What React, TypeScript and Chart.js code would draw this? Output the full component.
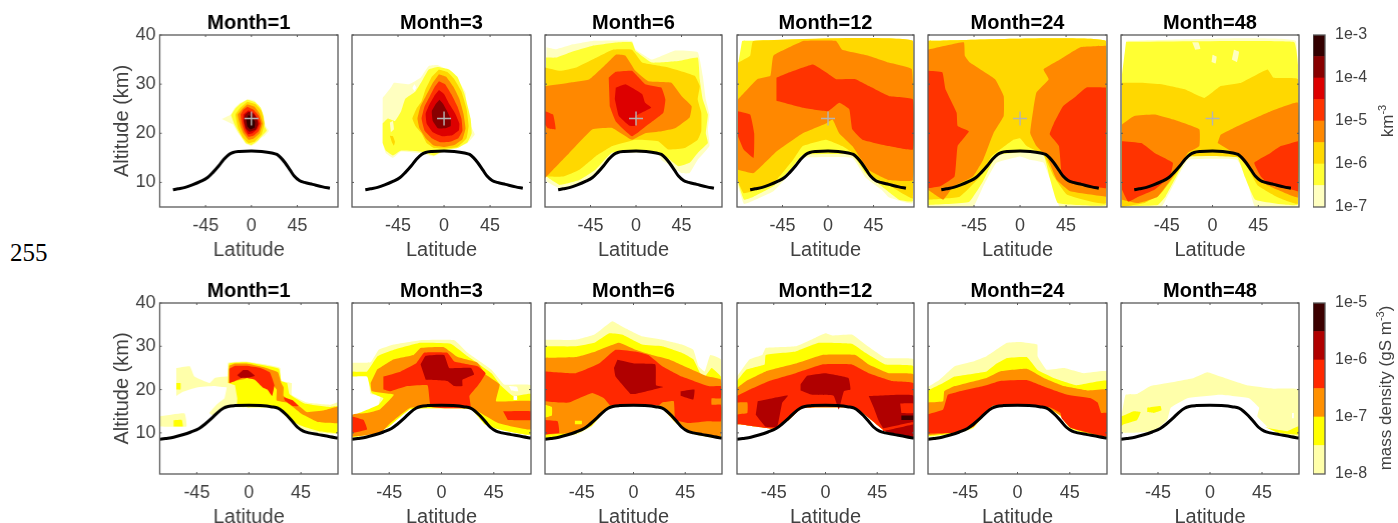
import React, { useEffect, useRef } from "react";
import { Chart, registerables } from "chart.js";
Chart.register(...registerables);

type Layer = [number, number[]];
const WHITE = -1;

const monthLabels = ["Month=1", "Month=3", "Month=6", "Month=12", "Month=24", "Month=48"];
const tropLat = [-77, -72, -65, -58, -50, -43, -38, -32, -27, -22, -18, -12, 0, 10, 20, 25, 29, 33, 38, 42, 47, 52, 60, 70, 77];
const tropAlt = [8.5, 8.7, 9.0, 9.5, 10.2, 11.0, 12, 13.4, 14.7, 15.7, 16.1, 16.3, 16.4, 16.3, 16.0, 15.7, 15, 14, 12.5, 11.3, 10.4, 10, 9.6, 9.1, 8.8];

const numberColors = ["#FFFFC0", "#FFFF33", "#FFD800", "#FF8800", "#FF3300", "#DD0000", "#880000", "#330000"];
const massColors = ["#FFFFAA", "#FFFF00", "#FF9000", "#FF2800", "#B00000", "#3C0000"];
const numberEdges = [-7, -6.5, -6, -5.5, -5, -4.5, -4, -3.5, -3];
const massEdges = [-8, -7.5, -7, -6.5, -6, -5.5, -5];
const numberTicks = [-7, -6, -5, -4, -3];
const massTicks = [-8, -7, -6, -5];

const n1: Layer[] = [
  [0, [-29, 22.9, -20, 23.8, -17, 25, -11, 26.2, -3, 26.9, 3, 26.6, 9, 25.2, 11, 23.5, 14, 21.5, 17, 20.5, 13, 19.5, 9, 19, 5, 18, 0, 17.4, -5, 17.8, -9, 19, -13, 20, -18, 21.8]],
  [1, [-4, 26.9, 3, 26.4, 9, 25.2, 12, 23.5, 13, 21.5, 15, 20.5, 11, 19.6, 7, 18.7, 3, 18, 0, 17.6, -5, 17.9, -9, 19, -13, 20.4, -17, 22, -20, 23.7, -16, 25, -11, 26]],
  [2, [-4, 26.4, 4, 25.9, 10, 24.5, 12.7, 22, 10, 19.8, 3, 18.3, -3, 18, -9, 19.3, -13, 21, -15.6, 23.8, -11, 25.2]],
  [3, [-4, 25.9, 3, 25.4, 8, 24, 11, 22, 8, 20, 2, 18.9, -3, 18.7, -8, 20, -11, 21.5, -13.4, 23.8, -9, 25]],
  [4, [-4, 25.4, 2, 24.8, 7, 23.6, 9.4, 22, 7, 20.4, 2, 19.5, -3, 19.3, -7, 20.4, -9.5, 22, -10.7, 23.8, -8, 24.8]],
  [5, [-3, 24.7, 2, 24.2, 5.5, 23.2, 7.8, 22, 5.5, 20.8, 1, 20, -3, 19.8, -6, 20.8, -8, 22.5, -8, 23.8]],
  [6, [-3, 24.4, 2, 24, 5.5, 23, 6.5, 21.8, 4, 20.7, -2, 20.3, -5.5, 21, -7.5, 22.5, -6.5, 23.7]],
  [7, [-3, 23.7, 1, 23.3, 3.5, 22.3, 3, 21.2, -1, 20.8, -4, 21.4, -5, 22.7]],
];

const n2: Layer[] = [
  [0, [-60, 27.2, -52, 29.3, -49, 30.3, -34, 30, -23, 31.3, -15, 33.7, -6.5, 33.9, 5, 32.7, 13, 31, 21, 28.3, 23, 22.8, 30, 19.8, 23, 18, 13, 17, 3, 16.7, -10, 15.3, -23, 16, -42, 16.3, -50, 15, -57, 16, -60, 18, -60, 24.2]],
  [1, [-60, 22, -55, 23, -48, 22.5, -42, 24.5, -38, 27, -28, 28.5, -22, 30.5, -15, 33, -6, 33.5, 5, 33, 13, 31.5, 20, 28, 26, 23, 27, 20, 23, 18.2, 13, 17, 0, 16.5, -10, 15.5, -23, 16.3, -42, 16.5, -50, 15.5, -57, 16.5, -60, 18]],
  [0, [-53, 22.2, -50, 22.5, -49, 20.8, -52, 20.2]],
  [WHITE, [-31, 29.2, -29, 30, -27, 29.3, -29, 28.6]],
  [2, [-5, 33, 3, 32.5, 10, 31, 17, 28.5, 22, 25, 24, 21.5, 22, 19, 13, 17.2, 0, 16.9, -10, 17, -17, 18, -22, 20, -28, 21.5, -31, 23, -27, 25, -22, 26.5, -18, 29, -12, 31.5]],
  [2, [-53, 19.5, -50, 19.4, -48, 18.3, -49, 17.5, -51, 18.2]],
  [3, [-5, 32, 2, 31.5, 9, 29.5, 15, 27, 19, 24, 21, 21, 18, 18.8, 10, 17.6, 0, 17.2, -10, 17.5, -18, 19, -24, 21, -26, 23, -23, 25.5, -18, 27.5, -11, 30.3]],
  [4, [-5, 30.6, 1, 30, 7, 28, 13, 25.5, 17, 23, 18, 20.5, 14, 19, 6, 18.3, -4, 18.2, -12, 19, -19, 20.5, -22, 23, -19, 25.5, -14, 27.5, -9, 29.5]],
  [5, [-5, 28.8, 0, 28, 5, 26, 11, 24, 15, 22, 14.5, 20.6, 8, 19.6, -2, 19.4, -11, 20.2, -17, 22, -18, 24, -14, 26, -9, 27.8]],
  [6, [-4.5, 26.8, -1, 26, 3, 24.5, 6.5, 23, 6.5, 21.5, 1, 21, -6, 21, -11, 22.5, -12, 24.5, -8, 26]],
];

const n3: Layer[] = [
  [0, [-88.6, 37.5, -79, 37.1, -62.5, 38.1, -43, 38.8, -4, 38.8, -0.6, 37.1, 15.6, 35, 38, 36.8, 61, 36.5, 66, 31.7, 69, 26.9, 72.6, 23.8, 71, 20.8, 72.6, 17.4, 61, 14.6, 53, 11.9, 45, 11.9, 25, 14.6, 22, 15.9, -23, 15.9, -40, 11.2, -56, 9.5, -75.6, 8.8, -88.6, 10.2]],
  [1, [-89, 35.4, -79, 35.4, -66, 36.4, -43, 37.8, -17, 38.5, -4, 38.5, -0.6, 36.8, 15.6, 34.4, 42, 34.7, 61, 35.4, 63, 31, 66, 26.9, 71, 23.8, 69, 20, 71, 18, 61, 16, 53, 14, 42, 13.3, 27, 15.7, 22, 16.1, -23.5, 16.1, -40, 12.6, -56, 10.5, -75.6, 9.5, -88.6, 11.2]],
  [2, [-90, 33.4, -75, 32.7, -59, 33.4, -43, 35, -23, 37, -4, 37, 6, 34.4, 32, 33.4, 58, 31.7, 63, 29.6, 61, 26.9, 64.5, 24.2, 64.5, 20.4, 61, 18.7, 48, 17, 32, 16.7, 22, 18.4, -0.6, 18.7, -23.5, 17.4, -40, 15.3, -56, 12.6, -72, 11.2, -90, 11.2]],
  [3, [-90, 29.6, -66, 30.3, -46, 31, -28, 34.4, -20, 36, -10.4, 35.8, -0.6, 32.7, 12, 30.6, 35, 30.3, 45, 27.6, 55, 25.5, 53, 23.2, 38.5, 21, 25.4, 20.4, 9, 20, -4, 18.7, -23.5, 21.1, -43, 20.8, -66, 16, -82, 12.6, -90, 10.9]],
  [4, [-27, 31.3, -20, 32.5, -4, 32.7, 9, 30, 25, 29.3, 29, 26.9, 27, 24.2, 12, 21.8, -4, 19.4, -20, 22.4, -26, 25.5]],
  [4, [-90, 24.5, -82, 23.8, -79.5, 20.8, -87, 21, -90, 21.8]],
  [5, [-20, 29.3, -10.4, 30, 6, 28, 9, 26.2, 15, 25.2, -0.6, 23.5, -0.6, 21.5, -7, 21.6, -17, 23.5, -21, 27]],
];

const n4: Layer[] = [
  [0, [-85, 38.8, 84, 38.8, 85, 33, 84, 5.8, 60, 7, 53, 8.5, 37, 11, 24, 15, -25, 15, -34.5, 12.5, -54, 8.2, -73.6, 6.3, -83, 5.6, -89, 9.5, -89, 30]],
  [1, [-85, 38.8, 84, 38.8, 84, 6.2, 70, 6.5, 53, 9.2, 37, 11.9, 24, 15.6, -25, 15.6, -34.5, 13.3, -54, 9.2, -73.6, 7.1, -83, 6.5, -89, 10.2, -89, 34]],
  [2, [-89, 34.4, -77, 35.8, -74, 38.8, 84, 38.8, 84, 6.8, 60, 9.5, 44, 11.2, 27, 15.6, 14, 17.4, -2, 18.7, -25, 17.4, -34.5, 14.6, -51, 10.5, -70, 8.5, -83.4, 7.8, -89, 10.2]],
  [3, [-89, 26.9, -70, 31, -57, 31.7, -54, 35.8, -31, 38.2, -25, 38.8, 8, 38.8, 14, 37, 40, 35.8, 60, 34.4, 83, 33, 84, 10.5, 60, 10.5, 40, 12.6, 24, 17.4, 11, 20, 4.5, 22.8, -2, 22, -25, 20, -51, 16.3, -73.6, 11.9, -89, 12.6]],
  [4, [-51, 31.3, -38, 32.4, -15, 34, -2, 32.4, 8, 31, 27, 31, 40.5, 29.6, 60, 27.6, 84, 26.9, 84, 16.7, 60, 17.4, 34, 18.7, 24, 20.8, 21, 24.9, 11, 26.2, 0, 24.5, -25, 25.2, -51, 26.6]],
  [4, [-89, 24.5, -77, 23.8, -73, 20, -73.6, 15, -83.4, 16.7, -89, 19.4]],
];

const n5: Layer[] = [
  [0, [-90, 38.8, 84, 38.8, 84, 5, 39, 5, 33, 8.5, 23, 14, 10, 14.6, 0, 15.3, -23, 14, -36, 9.2, -46, 5, -90, 5]],
  [1, [-90, 38.8, 84, 38.8, 84, 5.4, 37, 5.8, 29, 11, 23, 15.6, 4, 16.2, -23, 15.5, -36, 10.3, -50, 6, -90, 5.4]],
  [2, [-90, 38.8, 84, 38.8, 84, 5.8, 46, 7.5, 33, 11.2, 23, 15.6, 6.5, 17.4, 0, 19, -6.5, 18.7, -28, 15.3, -39, 11.2, -59, 7.1, -90, 6.5]],
  [3, [-90, 37, -55, 38.5, -54, 35.8, -49, 34.4, -24.4, 31, -16, 27.6, -16, 23.5, -26, 20, -36, 14.6, -46, 11.2, -65, 9.2, -75, 6.5, -90, 8.5]],
  [3, [84, 37.8, 59, 37.5, 39, 35, 23, 33, 28, 31, 16, 28.3, 13, 24.9, 10, 20, 16, 17.4, 26, 15.3, 36, 10.5, 49, 8.2, 84, 7.1]],
  [4, [-90, 32.7, -76, 32.4, -73, 29, -62, 24.2, -61, 21.5, -50, 20.4, -61, 17.4, -64, 11.2, -78, 9.2, -90, 8.8]],
  [4, [84, 29.3, 65, 29.3, 55, 27.6, 42, 25.5, 33, 22, 29, 19.8, 38, 17.4, 41, 11.2, 49, 9.9, 84, 8.8]],
];

const n6: Layer[] = [
  [0, [-85, 38.8, 82, 38.8, 84, 5, 42, 5, 34, 10.5, 24, 14.6, -24, 14.6, -34, 11.2, -46, 6.5, -50.5, 5, -89, 5, -89, 30]],
  [1, [-85, 38.6, 80, 38.6, 84, 34, 84, 5.5, 42, 6.5, 32, 11, 24, 15.2, -24, 15.2, -34, 11.8, -46, 7.2, -54, 5.4, -89, 5.4, -89, 32]],
  [0, [-20, 38.5, -14, 38.5, -12, 37.2, -17, 37]],
  [0, [0, 36, 4, 35.6, 3, 34.2, -1, 34.5]],
  [0, [21, 37, 26, 36.6, 24, 34.5, 19, 35]],
  [2, [-89, 30.3, -70, 30.3, -50.5, 30, -28, 29, -8, 27.2, 8, 29.6, 28, 30.3, 54, 33, 60, 31.3, 84, 31, 84, 5.7, 64, 7, 44, 9.5, 28, 15, -24.4, 15.3, -34, 12.2, -50.5, 7.8, -67, 5.8, -89, 5]],
  [3, [-89, 21.8, -77, 23.5, -57, 23.8, -34, 22.5, -13, 20.8, -13, 17.4, -24.4, 16, -34, 12.6, -54, 7.1, -73, 5.8, -89, 6.5]],
  [3, [5, 18, 8, 19.7, 28, 21.8, 54, 24.2, 84, 26.2, 84, 7, 64, 8.5, 47, 10.2, 34, 13.3, 24.4, 15.6]],
  [4, [-89, 18.4, -70, 18, -57, 16, -39, 14, -42, 11.2, -57, 8.5, -73, 7.1, -83, 6.1, -89, 8.5]],
  [4, [84, 18.4, 67, 17.4, 57, 16, 41, 14, 47.5, 11.2, 54, 9.9, 84, 8.2]],
];

const m1: Layer[] = [
  [0, [-62.7, 25, -51, 25.4, -47, 23, -34, 21.5, -29.5, 22.7, -18, 23, -18, 20.5, -30, 20.8, -45, 20.5, -57, 19.5, -62.7, 18.5]],
  [1, [-62.7, 21.5, -59, 21.5, -59, 20, -62.7, 20]],
  [0, [-77.7, 13.8, -55.5, 14.5, -54, 11.5, -77.7, 11.5]],
  [1, [-65, 12.9, -58, 13, -57, 11.5, -65, 11.5]],
  [0, [-18, 22, -18, 26.2, -2, 26.5, 15, 25.8, 27, 25, 28, 22, 37, 21.5, 37, 18.8, 50, 17, 70, 16.5, 77, 17, 77, 9.8, 60, 10, 45, 11, 33, 14, 24, 15.8, -22, 15.8, -31, 14, -34, 14.6, -28, 16.5, -21, 18]],
  [1, [-18, 21.5, -17, 26, -2, 26.3, 15, 25.5, 26, 24.8, 28, 22, 33, 21.5, 35, 19, 48, 16.8, 70, 16, 77, 16.2, 77, 10, 62, 10.3, 47, 11.5, 35, 13, 24, 15.8, -10, 16, -10, 18, -12, 21]],
  [2, [-17, 25.5, -12, 26, -2, 26, 12, 25.2, 25, 24, 28, 21.5, 30, 20.5, 30, 18.5, 42, 16.5, 50, 14.8, 65, 15.2, 77, 16, 77, 12.3, 60, 12.5, 45, 14.5, 33, 17, 24, 17.5, 24, 20, 18, 22, 10, 24, -3, 22.5, -12, 22, -17, 21.5]],
  [3, [-17, 24.8, -12, 25.5, -2, 25.5, 10, 25, 18, 24, 22, 21, 20, 18.5, 16, 20, 12, 20.5, 5, 22.3, -5, 22.8, -12, 22, -17, 21.5]],
  [3, [30, 18.2, 38, 17.5, 43, 16.2, 38, 16.2, 31, 17.5]],
  [4, [-10, 23.3, -5, 24.5, -1, 24.5, 5, 23.2, 0, 22.8, -7, 22.7]],
];

const m2: Layer[] = [
  [0, [-77, 26.2, -61, 26.3, -54, 29.2, -41, 30.4, -18, 31.4, 11, 31.4, 22.5, 28.5, 43, 24.6, 54, 21.2, 77, 21, 77, 9.6, 51, 10.8, 40, 12, 25, 15.4, -26.6, 15.4, -47, 11, -55.5, 10, -77, 8.8, -77, 13.8, -67, 14.6, -55.5, 15.4, -52.6, 18.5, -61, 19, -64, 23.8, -77, 24.2]],
  [1, [-77, 24.2, -64, 24.2, -55, 27.7, -41, 29.2, -18, 30.8, 8, 30.6, 22.5, 27.7, 43, 23.8, 51.5, 20.8, 61.6, 18.5, 77, 19, 77, 9.6, 48, 10.9, 37, 12, 25, 15.5, -26.6, 15.5, -45, 11.5, -55.5, 10.2, -77, 9, -77, 13.8, -67, 15, -54, 16.5, -50, 18, -60, 19.2, -64, 23, -77, 23]],
  [WHITE, [58, 20.8, 65, 20.6, 66, 19.6, 60, 19.8]],
  [WHITE, [62, 18.5, 65, 18.5, 65, 17.6, 62, 17.6]],
  [2, [-55.5, 24.6, -41, 27, -24, 28, -18, 29.6, 2, 29.8, 14, 27.5, 31, 26.2, 38, 23.5, 50, 21.2, 47, 17.3, 77, 17.3, 77, 10.8, 48.6, 12.3, 25, 15.8, -26.6, 15.8, -45, 12, -52.6, 10, -77, 9.2, -77, 14.2, -64, 14.6, -53, 15.4, -41, 18.8, -60, 19.6, -61, 21.5]],
  [3, [-50, 23, -35, 24.2, -22, 26, -15, 28.5, 5, 28.5, 11, 26.5, 31, 25.4, 38, 23.8, 31, 20.8, 24, 18.5, 25, 15.8, -9, 16, -12, 21, -29.5, 20.8, -44, 19.6, -50, 20]],
  [3, [-77, 13.8, -67, 13, -64, 10.8, -77, 10]],
  [3, [53, 15, 77, 15, 77, 13, 57, 13]],
  [4, [-18, 25.8, -13.6, 27.8, 2.3, 28, 6.6, 25, 25.4, 25, 28, 23.5, 18, 22.3, 18, 20.8, 11, 20.8, 5, 22, -13.6, 22.3]],
];

const m3: Layer[] = [
  [0, [-77, 31.5, -50, 31.5, -34, 32.7, -18.5, 35.8, -10, 34.6, 7.5, 32.3, 25, 31.5, 42, 30.4, 52, 29.2, 56.6, 25.4, 62, 24.2, 66.8, 28, 76, 27, 76, 8.8, 48, 10, 36.4, 12.3, 22, 16.2, -20, 16.2, -36, 11.5, -50, 9.6, -77, 8.5]],
  [1, [-77, 30, -50, 30, -34, 30.8, -21, 33, -10, 32.7, 7.5, 30.4, 25, 30, 42, 28.5, 52, 27, 58, 23.8, 62, 23, 68, 25, 76, 23, 76, 8.8, 48, 10, 36.4, 12.5, 22, 16.3, -20, 16.3, -36, 11.7, -50, 9.8, -77, 8.8]],
  [2, [-77, 27.3, -50, 27.5, -33, 28.8, -12.7, 30.8, 1.7, 29.2, 16, 28, 30.6, 27, 51, 24.6, 65, 23, 76, 22.3, 76, 9.2, 48, 10, 36.4, 12.5, 22, 16.3, -20, 16.3, -36, 11.9, -50, 10, -77, 9.6]],
  [3, [-77, 24.2, -50, 23.8, -30, 26, -15.6, 29.2, 1.7, 28.8, 13, 28, 25, 25.4, 42, 23, 65, 20.8, 76, 20.8, 76, 18, 68, 18, 68, 16.5, 76, 16.5, 76, 12.7, 65, 12.7, 48, 12.3, 36.4, 13, 35, 17.3, 25, 17, 22, 16.3, -20, 16.3, -25.7, 18, -36, 19.2, -56, 17, -64.7, 17, -77, 17.3]],
  [3, [-77, 13, -66, 12.7, -64.7, 10, -77, 9.6]],
  [1, [-77, 16.5, -71, 16, -71, 14, -77, 13.5]],
  [1, [-51, 12.8, -45, 12.8, -45, 12, -51, 12]],
  [4, [-14, 26.9, 1.7, 26, 19, 25.8, 19.6, 21, 26, 20.6, 1.7, 19, -2.6, 19, -15.6, 23, -17, 25]],
  [4, [41, 19.6, 53, 20, 52, 17.7, 41, 18.6]],
];

const m4: Layer[] = [
  [0, [-77, 23, -66, 27, -55, 28, -52, 29.6, -26, 30, -8.7, 32, 0, 33, 5.8, 32.5, 23, 32.7, 34.7, 30.4, 52, 27.3, 76.6, 27, 76.6, 8.8, 52, 10.4, 37.6, 13.5, 26, 15.8, -20, 15.8, -32, 13, -45, 11, -75, 12, -77, 12]],
  [1, [-77, 22, -69, 24.6, -53, 25.8, -52, 28, -26, 28.8, -6, 30.8, 23, 30.6, 34.7, 28.5, 52, 25.8, 76.6, 25.4, 76.6, 8.8, 52, 10.4, 37.6, 13.5, 26, 15.8, -20, 15.8, -32, 13, -45, 11, -75, 12, -77, 12]],
  [2, [-77, 20.4, -69, 22, -52, 24.2, -26, 26, -3, 28, 26, 28, 37.6, 25.8, 55, 23.8, 76.6, 23.5, 76.6, 8.8, 52, 10.4, 37.6, 13.5, 26, 15.8, -20, 15.8, -32, 13, -45, 11, -75, 12, -77, 12]],
  [3, [-77, 18.5, -66, 20, -49, 22, -26, 23.8, -3, 25.8, 23, 25.8, 37.6, 23.8, 58, 22, 76.6, 21.5, 76.6, 8.8, 52, 10.4, 37.6, 13.5, 26, 15.8, -20, 15.8, -32, 13, -45, 11, -75, 12, -77, 12, -77, 14.2, -68, 14.6, -68, 17, -77, 17]],
  [4, [-21.7, 21.2, -16, 23.2, 0, 23.8, 20, 22.7, 21.7, 20, 16, 19.6, 11.6, 15.4, 7, 18.6, -11.6, 18.8, -21.7, 19.8]],
  [4, [-59, 17.3, -46, 18, -32.7, 18.6, -37.6, 17, -42, 11.5, -52, 11.4, -60.7, 14.2]],
  [4, [37.6, 18.5, 76.6, 18.6, 76.6, 8.8, 52, 10.4, 46, 13, 42, 15.8]],
  [3, [65, 16.8, 76.6, 16.8, 76.6, 14.6, 66, 14.6]],
  [3, [50, 11, 76.6, 12.5, 76.6, 12, 50, 10.4]],
  [5, [66, 14, 76.6, 14, 76.6, 13, 66, 13]],
];

const m5: Layer[] = [
  [0, [-78.6, 20.4, -67, 22.3, -54, 25.4, -38, 26.5, -26.6, 27.7, -9, 30.8, 2, 31, 17, 30.4, 17.3, 27.7, 25, 24.6, 40, 25, 57, 23.8, 76.9, 24.2, 76.9, 8.8, 45.7, 10.8, 37, 13.8, 22.5, 16.2, -21, 16.2, -38, 11, -55.5, 9.6, -78.6, 8.8]],
  [1, [-78.6, 19.6, -64, 21.5, -54, 23, -26.6, 24.2, -18, 26, -9, 27.3, 8, 27.5, 17, 24.6, 31, 22.7, 51, 21, 76.9, 22, 76.9, 9, 45.7, 11, 37, 13.9, 22.5, 16.3, -21, 16.3, -38, 11.2, -55.5, 9.8, -78.6, 9.2]],
  [2, [-78.6, 17, -64, 17.3, -63, 19.6, -54, 20.8, -26.6, 22.7, -15, 24.2, 8, 24.8, 22.5, 22.7, 40, 20.8, 60, 19.8, 76.9, 20, 76.9, 9.2, 45.7, 11.2, 37, 14, 22.5, 16.3, -21, 16.3, -38, 11.4, -55.5, 10, -78.6, 9.4]],
  [3, [-78.6, 14.2, -64, 15.4, -60, 18.8, -52.6, 19.4, -29.5, 20.8, -15, 22, 8, 22.2, 25.4, 20.4, 42.8, 18.8, 63, 18, 69, 17, 72, 14.6, 76.9, 14.6, 76.9, 9.2, 45.7, 11.2, 38, 13.4, 37, 14.6, 27, 16, -21, 16.3, -38, 11.4, -55.5, 10, -78.6, 9.8]],
];

const m6: Layer[] = [
  [0, [-76.6, 13.8, -73, 18.8, -63, 19, -51.4, 20.8, -37, 21.5, -14, 22.7, -2.3, 24, 9, 23, 32, 21, 55.5, 20.2, 76.6, 20, 76.6, 8.8, 52.6, 10.8, 41, 13.8, 42.5, 15.8, 33.8, 18, 9, 18.8, -19.6, 18, -34, 15.8, -37, 13, -48.6, 10.4, -71.7, 10, -76.6, 10]],
  [WHITE, [71, 14.6, 72.5, 14.6, 72.5, 13.4, 71, 13.4]],
  [1, [-76.6, 13.8, -66, 15, -60, 14.8, -63, 13, -74.6, 12, -76.6, 11.6]],
  [1, [-54.3, 15.8, -42.8, 16.2, -42, 15.2, -48.6, 14.6, -54.3, 14.8]],
  [1, [46.8, 11.5, 52.6, 11, 67, 10.4, 76.6, 11.5, 76.6, 9.6, 58.4, 10]],
];

const numberPanels = [n1, n2, n3, n4, n5, n6];
const massPanels = [m1, m2, m3, m4, m5, m6];

const panelX: [number, number][] = [[159.5, 337.5], [351.5, 530.5], [544.5, 721.5], [736.5, 913.5], [927.5, 1106.5], [1120.5, 1298.5]];
const rows = [
  { top: 35, bottom: 207, xMin: -90, xMax: 85, yMin: 5, yMax: 40, panels: numberPanels, colors: numberColors, cross: true, edges: numberEdges, cbTicks: numberTicks },
  { top: 303, bottom: 474, xMin: -77, xMax: 77, yMin: 0.5, yMax: 40, panels: massPanels, colors: massColors, cross: false, edges: massEdges, cbTicks: massTicks },
];

const FONT = "'Liberation Sans', Arial, sans-serif";
const TEXT = "#404040";
const FRAME = "#5a5a5a";

const framePlugin = {
  id: "matlabFrame",
  afterDraw(chart: any, _a: any, opts: any) {
    const { ctx, chartArea: a, scales } = chart;
    ctx.save();
    ctx.strokeStyle = FRAME;
    ctx.lineWidth = 1.3;
    ctx.strokeRect(a.left, a.top, a.right - a.left, a.bottom - a.top);
    ctx.lineWidth = 1;
    ctx.beginPath();
    if (opts.ticks) {
      for (const t of scales.x.ticks) {
        const px = scales.x.getPixelForValue(t.value);
        ctx.moveTo(px, a.bottom); ctx.lineTo(px, a.bottom - 2);
        ctx.moveTo(px, a.top); ctx.lineTo(px, a.top + 2);
      }
      for (const t of scales.y.ticks) {
        const py = scales.y.getPixelForValue(t.value);
        ctx.moveTo(a.left, py); ctx.lineTo(a.left + 2, py);
        ctx.moveTo(a.right, py); ctx.lineTo(a.right - 2, py);
      }
    }
    ctx.stroke();
    ctx.restore();
  },
};

function toPoints(flat: number[]) {
  const out: { x: number; y: number }[] = [];
  for (let i = 0; i < flat.length; i += 2) out.push({ x: flat[i], y: flat[i + 1] });
  return out;
}

const noPad = (s: any) => { s.paddingLeft = 0; s.paddingRight = 0; s.paddingTop = 0; s.paddingBottom = 0; };

function Panel({ row, col }: { row: number; col: number }) {
  const ref = useRef<HTMLCanvasElement>(null);
  const R = rows[row];
  const [pl, pr] = panelX[col];
  const marginL = col === 0 ? 49.5 : 2;
  const marginT = 26;
  const marginB = 55;
  const width = pr - pl + marginL + 2;
  const height = R.bottom - R.top + marginT + marginB;
  useEffect(() => {
    const layers = R.panels[col];
    const datasets: any[] = layers.map(([lvl, pts], i) => ({
      data: toPoints(pts),
      showLine: true,
      fill: "shape",
      backgroundColor: lvl === WHITE ? "#ffffff" : R.colors[lvl],
      borderWidth: 0,
      pointRadius: 0,
      tension: 0.1,
      order: 1000 - i,
    }));
    datasets.push({
      data: tropLat.map((x, i) => ({ x, y: tropAlt[i] })),
      showLine: true,
      fill: false,
      borderColor: "#000000",
      borderWidth: 3,
      pointRadius: 0,
      cubicInterpolationMode: "monotone",
      order: 2,
    });
    if (R.cross) {
      datasets.push({
        data: [{ x: 0, y: 23 }],
        showLine: false,
        pointStyle: "cross",
        pointRadius: 7,
        pointBorderWidth: 1.4,
        pointBorderColor: "#b4b4b4",
        order: 1,
      });
    }
    const chart = new Chart(ref.current!, {
      type: "scatter",
      data: { datasets },
      plugins: [framePlugin],
      options: {
        animation: false,
        responsive: false,
        layout: { autoPadding: false, padding: { right: 2 } },
        plugins: {
          legend: { display: false },
          tooltip: { enabled: false },
          title: { display: true, fullSize: false, text: monthLabels[col], color: "#000", font: { family: FONT, size: 20, weight: "bold" }, padding: { top: 2, bottom: 0 } },
          matlabFrame: { ticks: true },
        } as any,
        scales: {
          x: {
            type: "linear", min: R.xMin, max: R.xMax,
            grid: { display: false, drawTicks: false }, border: { display: false },
            afterBuildTicks: (s: any) => { s.ticks = [{ value: -45 }, { value: 0 }, { value: 45 }]; },
            afterFit: (s: any) => { s.height = marginB; noPad(s); },
            ticks: { color: TEXT, font: { family: FONT, size: 18 }, padding: 8, maxRotation: 0, callback: (v: any) => String(v) },
            title: { display: true, text: "Latitude", color: TEXT, font: { family: FONT, size: 20 }, padding: 0 },
          },
          y: {
            type: "linear", min: R.yMin, max: R.yMax,
            grid: { display: false, drawTicks: false }, border: { display: false },
            afterBuildTicks: (s: any) => { s.ticks = [{ value: 10 }, { value: 20 }, { value: 30 }, { value: 40 }]; },
            afterFit: (s: any) => { s.width = marginL; noPad(s); },
            ticks: { display: col === 0, color: TEXT, font: { family: FONT, size: 18 }, padding: 4, callback: (v: any) => String(v) },
            title: { display: col === 0, text: "Altitude (km)", color: TEXT, font: { family: FONT, size: 20 }, padding: 0 },
          },
        },
      } as any,
    });
    return () => chart.destroy();
  }, []);
  return (
    <canvas
      ref={ref}
      width={width}
      height={height}
      style={{ position: "absolute", left: pl - marginL, top: R.top - marginT, width, height, filter: "blur(0.45px)" }}
    />
  );
}

function Colorbar({ row }: { row: number }) {
  const ref = useRef<HTMLCanvasElement>(null);
  const R = rows[row];
  const barW = 12;
  const axisW = 60;
  const pad = 12;
  const left = 1312.5;
  const width = barW + axisW;
  const height = R.bottom - R.top + 2 * pad;
  useEffect(() => {
    const datasets = R.colors.map((c, i) => ({
      data: [[R.edges[i], R.edges[i + 1]]],
      backgroundColor: c,
      borderWidth: 0,
      barPercentage: 1,
      categoryPercentage: 1,
      grouped: false,
    }));
    const chart = new Chart(ref.current!, {
      type: "bar",
      data: { labels: ["scale"], datasets },
      plugins: [framePlugin],
      options: {
        animation: false,
        responsive: false,
        layout: { autoPadding: false, padding: { top: pad, bottom: pad } },
        plugins: { legend: { display: false }, tooltip: { enabled: false }, title: { display: false }, matlabFrame: { ticks: false } } as any,
        scales: {
          x: { display: false },
          y: {
            type: "linear", position: "right",
            min: R.edges[0], max: R.edges[R.edges.length - 1],
            grid: { display: false, drawTicks: false }, border: { display: false },
            afterBuildTicks: (s: any) => { s.ticks = R.cbTicks.map((value) => ({ value })); },
            afterFit: (s: any) => { s.width = axisW; noPad(s); },
            ticks: { color: TEXT, font: { family: FONT, size: 16 }, padding: 10, callback: (v: any) => `1e${v}` },
          },
        },
      } as any,
    });
    return () => chart.destroy();
  }, []);
  return (
    <canvas
      ref={ref}
      width={width}
      height={height}
      style={{ position: "absolute", left, top: R.top - pad, width, height, filter: "blur(0.45px)" }}
    />
  );
}

function VLabel({ x, y, size, children }: { x: number; y: number; size: number; children: React.ReactNode }) {
  return (
    <div
      style={{
        position: "absolute", left: x, top: y, transform: "translate(-50%,-50%) rotate(-90deg)",
        fontFamily: FONT, fontSize: size, color: TEXT, whiteSpace: "nowrap", lineHeight: "18px",
      }}
    >
      {children}
    </div>
  );
}

const supStyle: React.CSSProperties = { fontSize: 11, verticalAlign: "super", lineHeight: 0 };

export default function App() {
  return (
    <div style={{ position: "fixed", left: 0, top: 0, width: 1398, height: 523, overflow: "hidden", background: "#fff" }}>
      {rows.map((_, r) => panelX.map((_, c) => <Panel key={`${r}-${c}`} row={r} col={c} />))}
      <Colorbar row={0} />
      <Colorbar row={1} />
      <VLabel x={1388} y={121} size={17}>km<sup style={supStyle}>-3</sup></VLabel>
      <VLabel x={1386} y={388} size={17}>mass density (gS m<sup style={supStyle}>-3</sup>)</VLabel>
      <div style={{ position: "absolute", left: 10, top: 238, fontFamily: "'Liberation Serif', serif", fontSize: 25, lineHeight: "30px", color: "#000" }}>255</div>
    </div>
  );
}
